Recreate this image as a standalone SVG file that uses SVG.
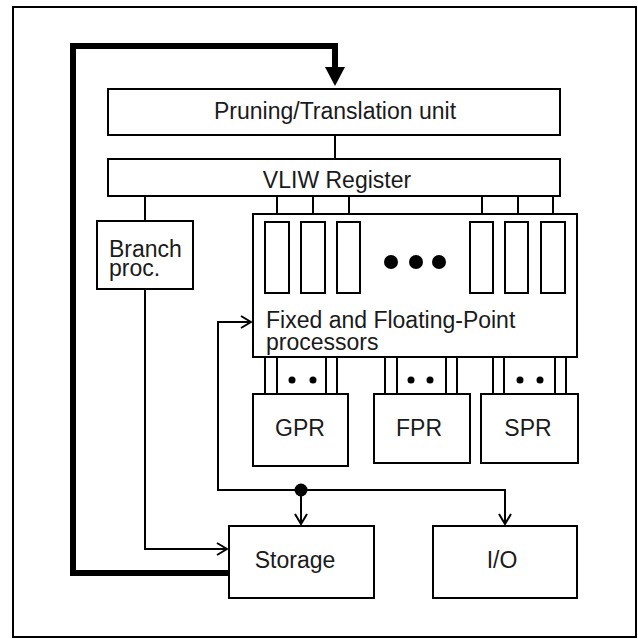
<svg xmlns="http://www.w3.org/2000/svg" width="638" height="639" viewBox="0 0 638 639">
  <style>
    .box { fill: #fff; stroke: #000; stroke-width: 2; }
    .ln { fill: none; stroke: #000; stroke-width: 2; }
    .thick { fill: none; stroke: #000; stroke-width: 6; }
    .lbl { font-family: "Liberation Sans", Arial, sans-serif; font-size: 23px; fill: #1a1a1a; }
    .mid { text-anchor: middle; }
  </style>
  <defs>
    <marker id="open" viewBox="0 0 12 14" refX="11" refY="7" markerWidth="12" markerHeight="14" markerUnits="userSpaceOnUse" orient="auto">
      <path d="M1,1 L11,7 L1,13" fill="none" stroke="#000" stroke-width="2"/>
    </marker>
  </defs>

  <!-- frame -->
  <rect x="13" y="7" width="623" height="630" fill="#fff" stroke="#000" stroke-width="2"/>

  <g id="connectors">
    <!-- feedback from Storage to Pruning unit -->
    <path class="thick" d="M229,573 H73 V46 H335 V70" />
    <path d="M325,67 L345,67 L335,86 Z" fill="#000"/>
    <!-- pruning to VLIW -->
    <line class="ln" x1="335" y1="135" x2="335" y2="159"/>
    <!-- VLIW to branch -->
    <line class="ln" x1="145" y1="196" x2="145" y2="221"/>
    <!-- VLIW to functional units -->
    <line class="ln" x1="277" y1="196" x2="277" y2="222"/>
    <line class="ln" x1="313" y1="196" x2="313" y2="222"/>
    <line class="ln" x1="349" y1="196" x2="349" y2="222"/>
    <line class="ln" x1="482" y1="196" x2="482" y2="222"/>
    <line class="ln" x1="518" y1="196" x2="518" y2="222"/>
    <line class="ln" x1="553" y1="196" x2="553" y2="222"/>
    <!-- branch to storage -->
    <path class="ln" d="M145,289 V549 H227" marker-end="url(#open)"/>
    <!-- storage bus -->
    <path class="ln" d="M218,322 V490 H505 V524" marker-end="url(#open)"/>
    <path class="ln" d="M217,322 H251" marker-end="url(#open)"/>
    <line class="ln" x1="301" y1="490" x2="301" y2="524" marker-end="url(#open)"/>
    <circle cx="301" cy="490" r="6.5" fill="#000"/>
    <!-- register buses -->
    <g class="ln">
      <line x1="265" y1="357" x2="265" y2="394"/>
      <line x1="277" y1="357" x2="277" y2="394"/>
      <line x1="326" y1="357" x2="326" y2="394"/>
      <line x1="337" y1="357" x2="337" y2="394"/>
      <line x1="385" y1="357" x2="385" y2="394"/>
      <line x1="397" y1="357" x2="397" y2="394"/>
      <line x1="446" y1="357" x2="446" y2="394"/>
      <line x1="457" y1="357" x2="457" y2="394"/>
      <line x1="493" y1="357" x2="493" y2="394"/>
      <line x1="504" y1="357" x2="504" y2="394"/>
      <line x1="555" y1="357" x2="555" y2="394"/>
      <line x1="566" y1="357" x2="566" y2="394"/>
    </g>
    <g fill="#000">
      <circle cx="292" cy="380" r="3.5"/>
      <circle cx="313" cy="380" r="3.5"/>
      <circle cx="411" cy="380" r="3.5"/>
      <circle cx="430" cy="380" r="3.5"/>
      <circle cx="520" cy="380" r="3.5"/>
      <circle cx="540" cy="380" r="3.5"/>
    </g>
  </g>

  <g id="pruning">
    <rect class="box" x="108" y="89" width="452" height="46"/>
    <text class="lbl mid" x="335" y="119">Pruning/Translation unit</text>
  </g>

  <g id="vliw">
    <rect class="box" x="108" y="159" width="452" height="37"/>
    <text class="lbl mid" x="337" y="188">VLIW Register</text>
  </g>

  <g id="branch">
    <rect class="box" x="97" y="221" width="96" height="68"/>
    <text class="lbl" x="109" y="257">Branch</text>
    <text class="lbl" x="109" y="276">proc.</text>
  </g>

  <g id="fxfp">
    <rect class="box" x="253" y="214" width="324" height="143"/>
    <rect class="box" x="265" y="222" width="24" height="71"/>
    <rect class="box" x="301" y="222" width="24" height="71"/>
    <rect class="box" x="337" y="222" width="23" height="71"/>
    <rect class="box" x="470" y="222" width="23" height="71"/>
    <rect class="box" x="505" y="222" width="23" height="71"/>
    <rect class="box" x="541" y="222" width="24" height="71"/>
    <circle cx="391" cy="262" r="7"/>
    <circle cx="416" cy="262" r="7"/>
    <circle cx="439" cy="262" r="7"/>
    <text class="lbl" x="266" y="328">Fixed and Floating-Point</text>
    <text class="lbl" x="266" y="350">processors</text>
  </g>

  <g id="gpr">
    <rect class="box" x="253" y="394" width="95" height="72"/>
    <text class="lbl mid" x="300" y="436">GPR</text>
  </g>

  <g id="fpr">
    <rect class="box" x="374" y="394" width="96" height="69"/>
    <text class="lbl mid" x="419" y="436">FPR</text>
  </g>

  <g id="spr">
    <rect class="box" x="481" y="394" width="97" height="69"/>
    <text class="lbl mid" x="528" y="436">SPR</text>
  </g>

  <g id="storage">
    <rect class="box" x="229" y="526" width="145" height="72"/>
    <text class="lbl mid" x="295" y="568">Storage</text>
  </g>

  <g id="io">
    <rect class="box" x="433" y="526" width="144" height="72"/>
    <text class="lbl mid" x="502" y="568">I/O</text>
  </g>
</svg>
